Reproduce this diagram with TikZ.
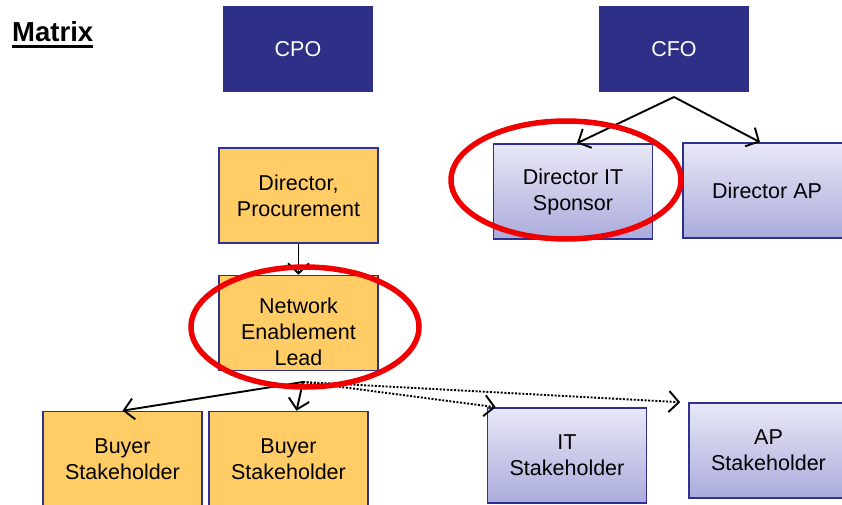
\documentclass[tikz,border=0pt]{standalone}
\usepackage{fontspec}
\setmainfont{Liberation Sans}
\usetikzlibrary{arrows.meta}
\definecolor{navy}{HTML}{2E3087}
\definecolor{gold}{HTML}{FFCC66}
\definecolor{edgeblue}{HTML}{2E3192}
\definecolor{lavtop}{HTML}{E8E8F7}
\definecolor{lavbot}{HTML}{ABABDC}
\definecolor{ringred}{HTML}{F00000}
\begin{document}
\begin{tikzpicture}[x=1pt,y=-1pt,
  boxtext/.style={font=\fontsize{21.5}{26}\selectfont, align=center, inner sep=0pt,
    line width=1.6pt, minimum width=159pt, minimum height=95pt},
  exec/.style={boxtext, fill=navy, text=white, minimum width=150pt, minimum height=86pt},
  ops/.style={boxtext, fill=gold, draw=edgeblue},
  fin/.style={boxtext, top color=lavtop, bottom color=lavbot, draw=edgeblue},
  plain/.style={font=\fontsize{21.5}{26}\selectfont, align=center, inner sep=0pt},
  link/.style={line width=1.9pt, -{Straight Barb[length=10pt,width=21pt,line width=1.9pt]}},
  dots/.style={link, dash pattern=on 2pt off 1.6pt},
  ring/.style={draw=ringred, line width=5.5pt}]
\useasboundingbox (0,0) rectangle (842,505);

% title
\node[anchor=base west, inner sep=0pt, font=\fontsize{27.5}{32}\selectfont\bfseries] (title) at (12,42) {Matrix};
\draw[line width=3pt] ([yshift=-5pt]title.base west) -- ([yshift=-5pt]title.base east);

% executives
\node[exec] (cpo) at (298,49.5) {CPO};
\node[exec] (cfo) at (674,49.5) {CFO};

% procurement line
\node[ops] (dirproc) at (298.5,195.5) {Director,\\Procurement};
\node[ops] (nel) at (298.5,323) {};
\node[plain] (neltext) at ([yshift=-9pt]nel.center) {Network\\Enablement\\Lead};
\node[ops] (buyer1) at (122.5,459) {Buyer\\Stakeholder};
\node[ops] (buyer2) at (288.5,459) {Buyer\\Stakeholder};

% finance / IT line
\node[fin] (dirit) at (573,191.5) {Director IT\\Sponsor};
\node[fin, minimum width=168pt] (dirap) at (767,190.5) {Director AP};
\node[fin] (it) at (567,455.5) {IT\\Stakeholder};
\node[fin] (ap) at (768.5,450.5) {AP\\Stakeholder};

% reporting lines
\coordinate (cfofork) at (674,97);
\coordinate (nelfork) at (303,382);
\draw[link] (cfofork) -- ([xshift=4pt]dirit.north);
\draw[link] (cfofork) -- ([xshift=-7pt]dirap.north);
\draw[link] (dirproc.south) -- (nel.north);
\draw[link] (nelfork) -- (buyer1.north);
\draw[link] (nelfork) -- ([xshift=8pt]buyer2.north);
\draw[dots] (nelfork) -- ([xshift=9pt]it.north west);
\draw[dots] (nelfork) -- ([xshift=-8pt]ap.north west);

% highlight rings
\draw[ring] (566,180) ellipse [x radius=115pt, y radius=59pt];
\draw[ring] (305,327) ellipse [x radius=114pt, y radius=60pt];
\end{tikzpicture}
\end{document}
